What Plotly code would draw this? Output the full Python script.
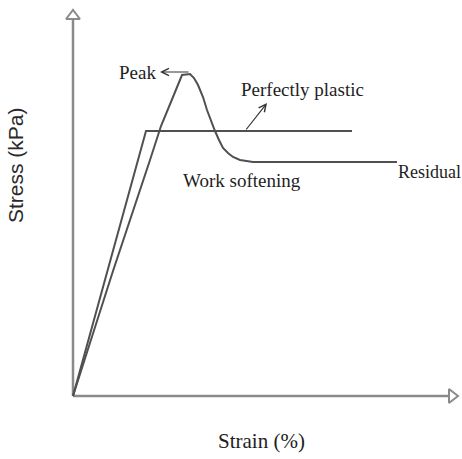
import plotly.graph_objects as go

# Schematic stress-strain curves (arbitrary units)
pp_strain = [0, 73, 279]
pp_stress = [0, 265, 265]

ws_strain = [0, 40, 77, 88, 100, 109, 117, 121, 125, 130, 134, 138, 142, 146, 150, 155, 160, 167, 174, 180, 324]
ws_stress = [0, 125, 236, 270, 299, 321, 322, 318, 311, 299, 286, 275, 265, 256, 248, 243, 239, 236, 235, 234, 234]

axis_x_end = 377
axis_y_end = 377

labels = ["Peak", "Perfectly plastic", "Work softening", "Residual"]
x_title = "Strain (%)"
y_title = "Stress (kPa)"

AX = "#8a8a8a"
LN = "#505050"
TXT = "#1e1e1e"
SERIF = "Liberation Serif, Times New Roman, serif"

fig = go.Figure()

# axes
fig.add_trace(go.Scatter(x=[0, 0], y=[0, axis_y_end], mode="lines",
                         line=dict(color=AX, width=2.5), showlegend=False, hoverinfo="skip"))
fig.add_trace(go.Scatter(x=[0, axis_x_end], y=[0, 0], mode="lines",
                         line=dict(color=AX, width=2.5), showlegend=False, hoverinfo="skip"))
fig.add_trace(go.Scatter(x=[0], y=[380], mode="markers", cliponaxis=False,
                         marker=dict(symbol="triangle-up-open", size=12, color=AX, line=dict(width=2, color=AX)),
                         showlegend=False, hoverinfo="skip"))
fig.add_trace(go.Scatter(x=[379], y=[0], mode="markers", cliponaxis=False,
                         marker=dict(symbol="triangle-right-open", size=12, color=AX, line=dict(width=2, color=AX)),
                         showlegend=False, hoverinfo="skip"))

# curves
fig.add_trace(go.Scatter(x=pp_strain, y=pp_stress, mode="lines", name="Perfectly plastic",
                         line=dict(color=LN, width=2), showlegend=False))
fig.add_trace(go.Scatter(x=ws_strain, y=ws_stress, mode="lines", name="Work softening",
                         line=dict(color=LN, width=2), showlegend=False))

ann = []
# Peak arrow
ann.append(dict(x=87, y=324, ax=117, ay=324, xref="x", yref="y", axref="x", ayref="y",
                text="", showarrow=True, arrowhead=5, arrowsize=1.2, arrowwidth=1.2, arrowcolor="#333"))
ann.append(dict(x=85, y=324, xref="x", yref="y", text=labels[0], showarrow=False,
                xanchor="right", yanchor="middle", font=dict(family=SERIF, size=19, color=TXT)))
# Perfectly plastic arrow
ann.append(dict(x=194, y=293, ax=172, ay=265, xref="x", yref="y", axref="x", ayref="y",
                text="", showarrow=True, arrowhead=5, arrowsize=1.2, arrowwidth=1.2, arrowcolor="#333"))
ann.append(dict(x=229, y=307, xref="x", yref="y", text=labels[1], showarrow=False,
                xanchor="center", yanchor="middle", font=dict(family=SERIF, size=19, color=TXT)))
ann.append(dict(x=169, y=216, xref="x", yref="y", text=labels[2], showarrow=False,
                xanchor="center", yanchor="middle", font=dict(family=SERIF, size=19, color=TXT)))
ann.append(dict(x=323, y=224, xref="x", yref="y", text=labels[3], showarrow=False,
                xanchor="left", yanchor="middle", font=dict(family=SERIF, size=18, color=TXT)))
# axis titles (paper coordinates)
ann.append(dict(x=0.4987, y=-0.0862, xref="paper", yref="paper", text=x_title, showarrow=False,
                xanchor="center", yanchor="middle", font=dict(family=SERIF, size=21, color=TXT)))
ann.append(dict(x=-0.1178, y=0.5936, xref="paper", yref="paper", text=y_title, showarrow=False,
                textangle=-90, xanchor="center", yanchor="middle",
                font=dict(family="Liberation Sans, Arial, sans-serif", size=21, color="#2a2a2a")))

fig.update_layout(
    width=462, height=459,
    margin=dict(l=63, r=0, t=0, b=53),
    paper_bgcolor="white", plot_bgcolor="white",
    xaxis=dict(range=[-10, 389], visible=False, fixedrange=True),
    yaxis=dict(range=[-10, 396], visible=False, fixedrange=True),
    annotations=ann,
    showlegend=False,
)

fig.write_html(
    "out.html",
    config={"displayModeBar": False},
    post_script="document.body.style.margin='0';document.body.style.overflow='hidden';",
)
